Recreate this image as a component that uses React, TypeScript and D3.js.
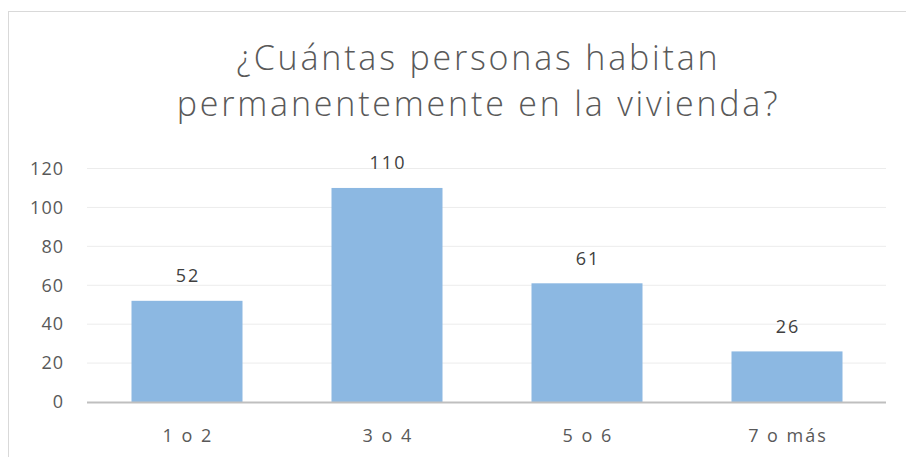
import React from "react";
import * as d3 from "d3";

const categories = ["1 o 2", "3 o 4", "5 o 6", "7 o más"];
const values = [52, 110, 61, 26];
const yTicks = [0, 20, 40, 60, 80, 100, 120];
const titleLines = ["¿Cuántas personas habitan", "permanentemente en la vivienda?"];

const W = 906;
const H = 457;
const FONT = "'Open Sans', sans-serif";

export default function App() {
  const x = d3.scaleBand<string>().domain(categories).range([87, 887]).paddingInner(0.445).paddingOuter(0.2225);
  const y = d3.scaleLinear().domain([0, 120]).range([402, 168.5]);
  return (
    <svg width={W} height={H} style={{ position: "absolute", left: 0, top: 0, background: "#fff" }} fontFamily={FONT}>
      <rect x={8.5} y={11.5} width={W + 10} height={H} fill="#fff" stroke="#d9d9d9" strokeWidth={1} />
      {titleLines.map((t, i) => (
        <text key={i} x={478.5} y={70 + i * 46} textAnchor="middle" fontSize={34} fontWeight={300} fill="#595959" letterSpacing={2.8}>
          {t}
        </text>
      ))}
      {yTicks.map((t) => (
        <g key={t}>
          {t > 0 && <line x1={87} x2={886} y1={y(t)} y2={y(t)} stroke="#ececec" strokeWidth={1} />}
          <text x={64} y={y(t)} dy="0.35em" textAnchor="end" fontSize={18} fill="#595959" letterSpacing={1}>
            {t}
          </text>
        </g>
      ))}
      {categories.map((c, i) => (
        <g key={c}>
          <rect x={x(c)} y={y(values[i])} width={x.bandwidth()} height={y(0) - y(values[i])} fill="#8cb8e2" />
          <text x={x(c)! + x.bandwidth() / 2 + 1} y={y(values[i]) - 25} dy="0.35em" textAnchor="middle" fontSize={18} fill="#404040" letterSpacing={2}>
            {values[i]}
          </text>
          <text x={x(c)! + x.bandwidth() / 2 + 1} y={436} dy="0.35em" textAnchor="middle" fontSize={18} fill="#595959" letterSpacing={2}>
            {c}
          </text>
        </g>
      ))}
      <line x1={87} x2={886} y1={402.5} y2={402.5} stroke="#bfbfbf" strokeWidth={2} />
    </svg>
  );
}
